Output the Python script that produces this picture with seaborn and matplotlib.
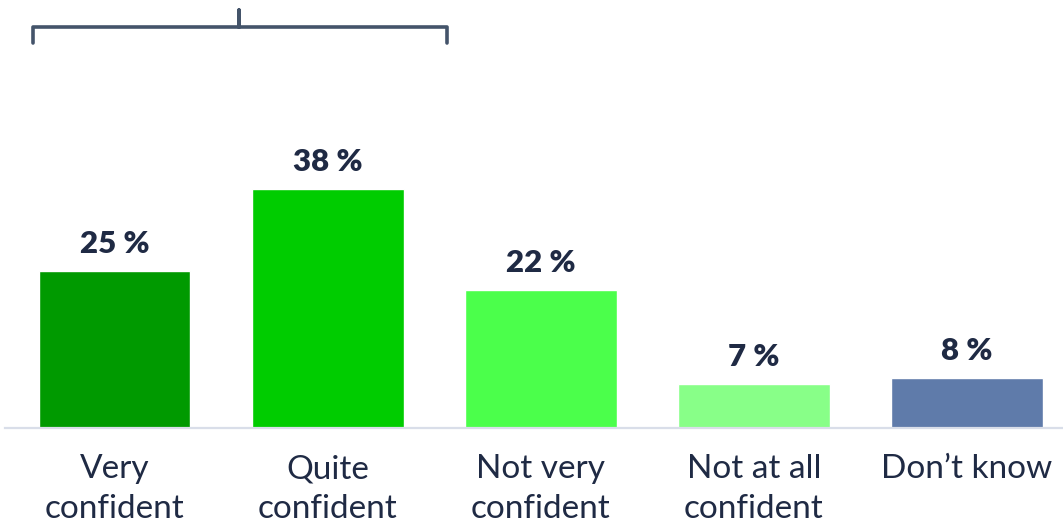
import matplotlib
matplotlib.use("Agg")
import matplotlib.pyplot as plt
import seaborn as sns
import pandas as pd

categories = ["Very\nconfident", "Quite\nconfident", "Not very\nconfident", "Not at all\nconfident", "Don\u2019t know"]
values = [25, 38, 22, 7, 8]
value_labels = ["25 %", "38 %", "22 %", "7 %", "8 %"]
colors = ["#009a00", "#00cc00", "#4bff4b", "#88ff88", "#5f7baa"]

sns.set_style("white")
plt.rcParams["font.family"] = ["Lato", "DejaVu Sans"]

W, H = 1063, 524
fig = plt.figure(figsize=(W / 100, H / 100), dpi=100)
left_px, base_px = 5, 428
ax = fig.add_axes([left_px / W, 1 - base_px / H, 1 - left_px / W, base_px / H])

df = pd.DataFrame({"cat": categories, "val": values})
sns.barplot(data=df, x="cat", y="val", hue="cat", palette=colors, legend=False,
            width=0.713, saturation=1, ax=ax)

spacing = 213.1
x0 = -(114.5 - left_px) / spacing
ax.set_xlim(x0, x0 + (W - left_px) / spacing)
ppu = 6.28
ax.set_ylim(0, base_px / ppu)

for i, (v, lab) in enumerate(zip(values, value_labels)):
    ax.annotate(lab, (i, v), xytext=(0, 13), textcoords="offset points",
                ha="center", va="baseline", fontsize=22.5, fontweight="heavy",
                color="#1f2a44")

# bracket over first two categories
def px2x(p):
    return x0 + (p - left_px) / spacing

def py2y(p):
    return (base_px - p) / ppu

bx = [px2x(33), px2x(33), px2x(239), px2x(239), px2x(239), px2x(447), px2x(447)]
by = [py2y(43), py2y(27), py2y(27), py2y(10), py2y(27), py2y(27), py2y(43)]
ax.plot(bx, by, color="#44546a", lw=2.6, solid_joinstyle="round",
        solid_capstyle="round", clip_on=False)

for s in ["left", "right", "top"]:
    ax.spines[s].set_visible(False)
ax.spines["bottom"].set_color("#d9dee9")
ax.spines["bottom"].set_linewidth(1.6)
ax.set_yticks([])
ax.set_xlabel("")
ax.set_ylabel("")
ax.tick_params(axis="x", length=0, pad=19, labelsize=24, colors="#1f2a44")
for t in ax.get_xticklabels():
    t.set_linespacing(1.4)

fig.savefig("out.png", dpi=100)
